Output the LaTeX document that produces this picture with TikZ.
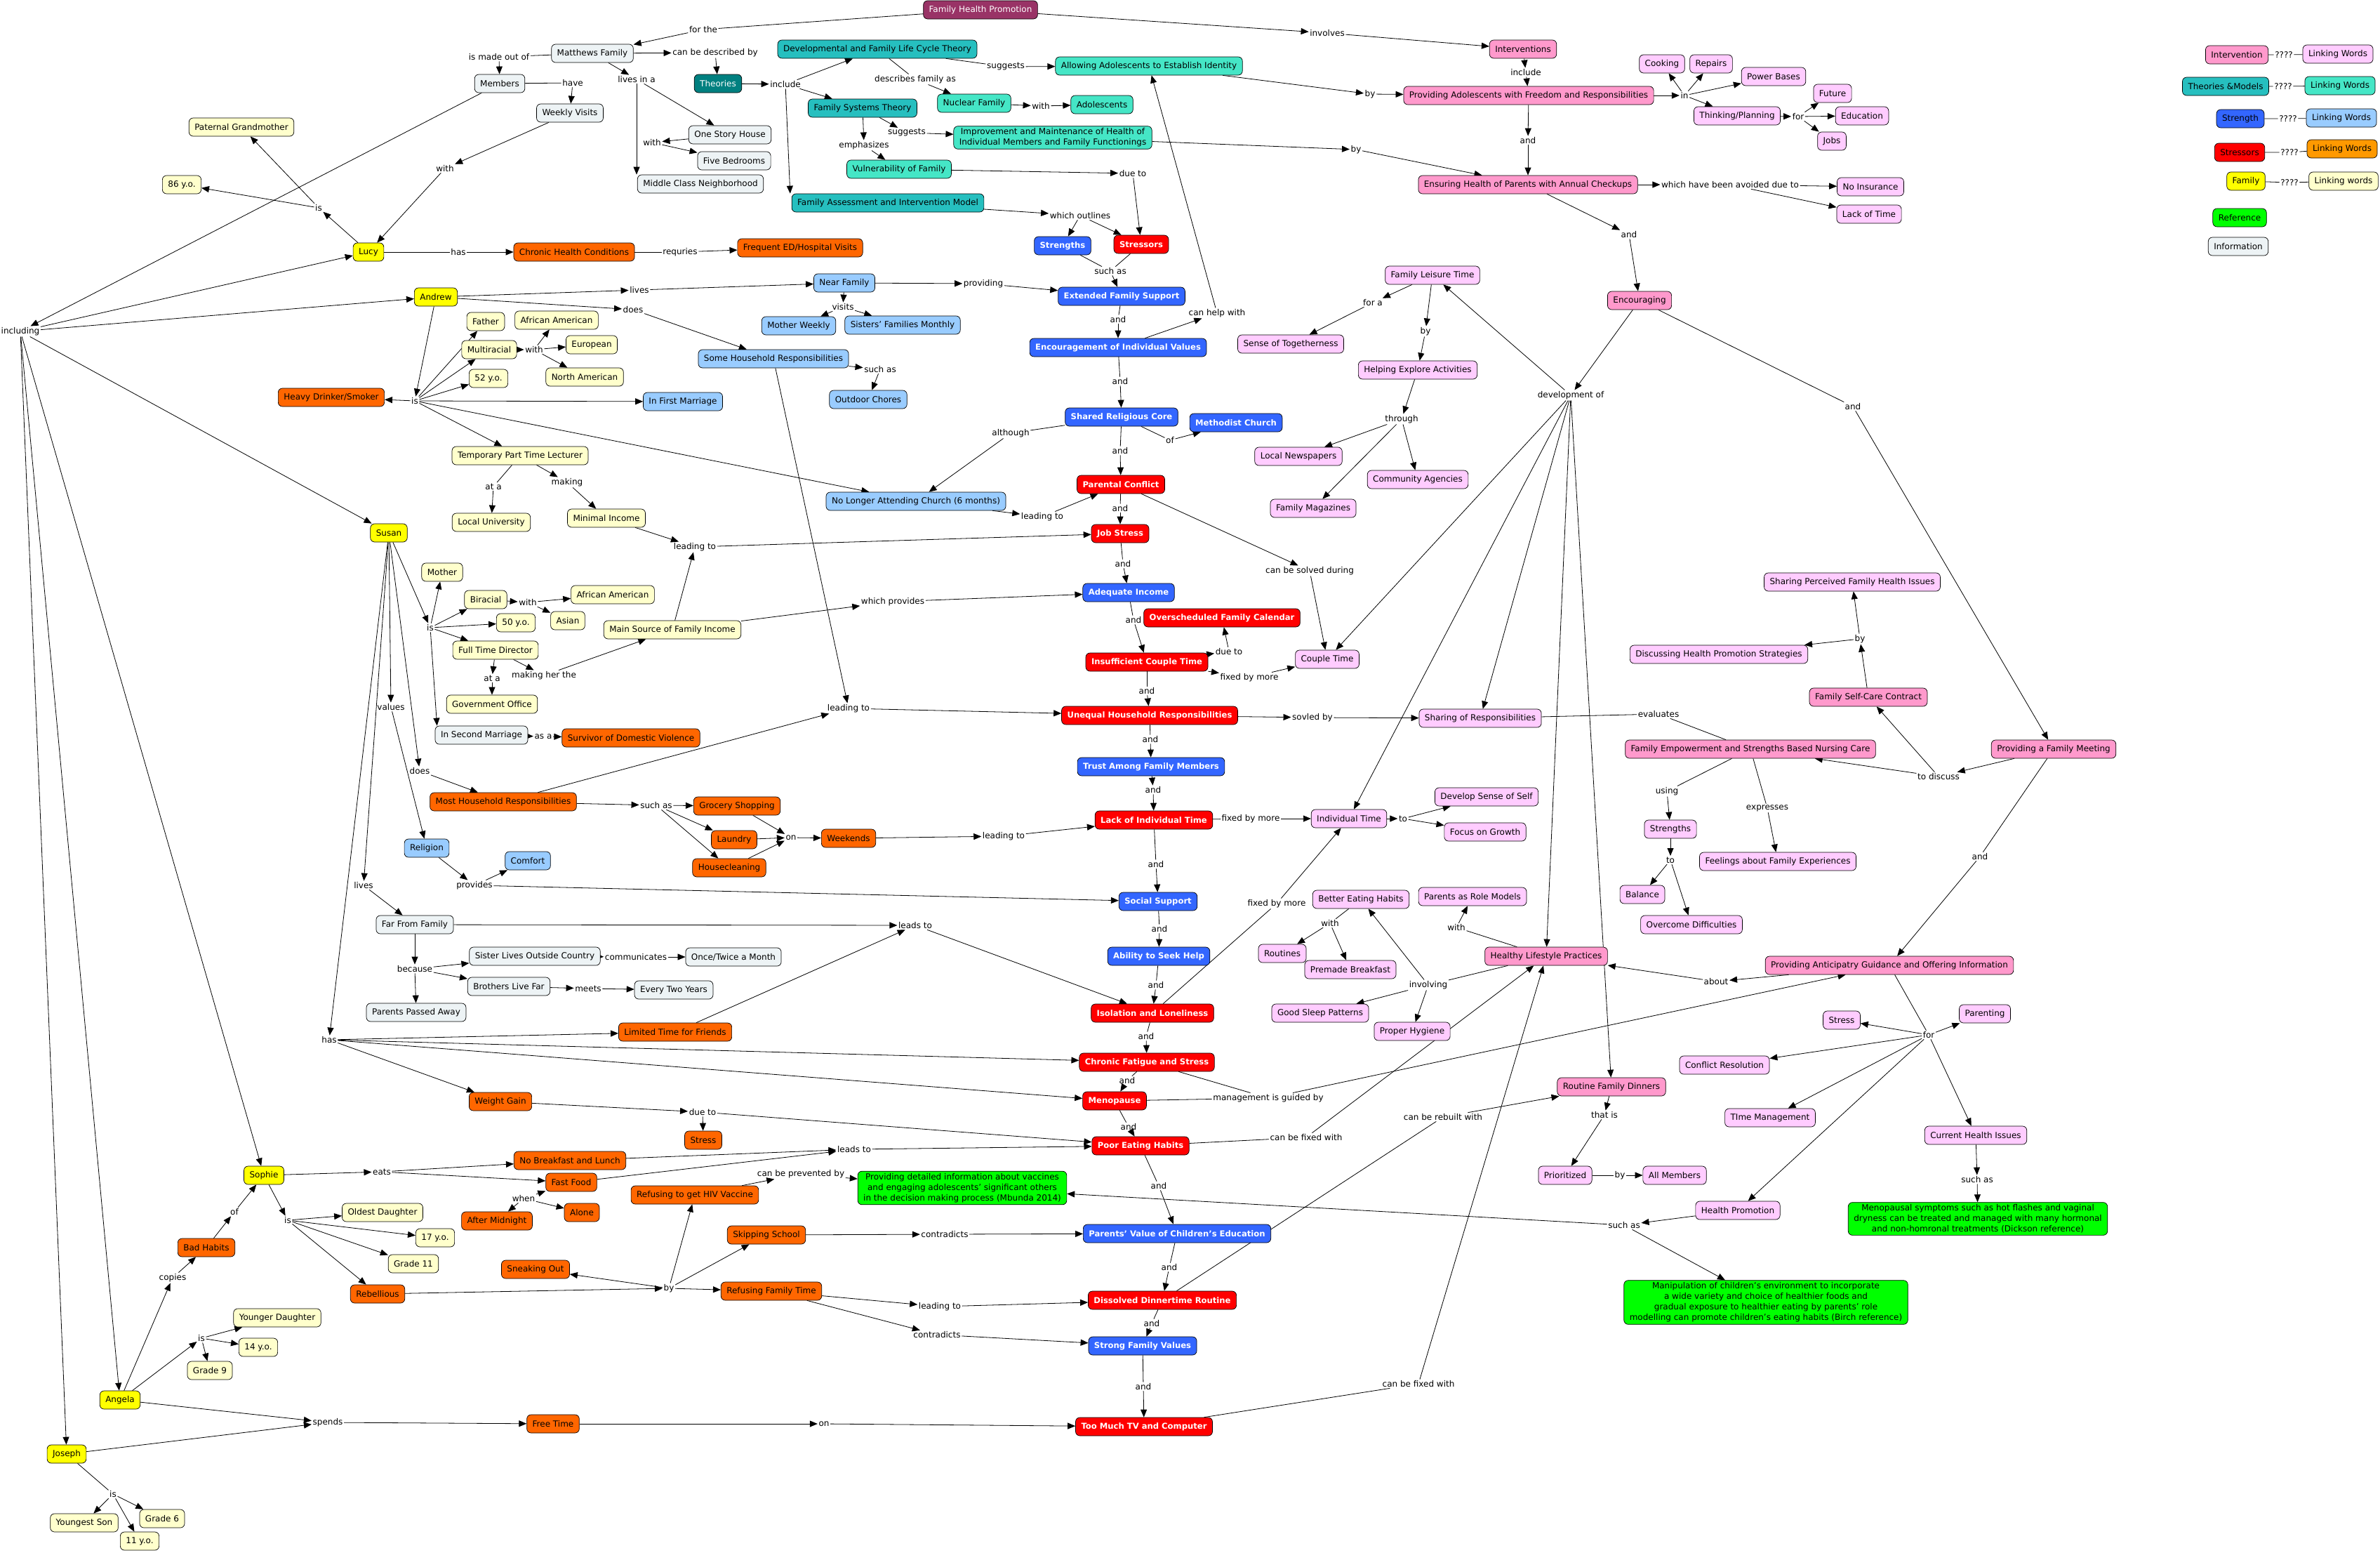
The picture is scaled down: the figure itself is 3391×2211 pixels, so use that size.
\documentclass[tikz,border=0pt]{standalone}
\usepackage{fontspec}
\setmainfont{DejaVu Sans}
\usetikzlibrary{arrows.meta}
\definecolor{cInfo}{HTML}{EDF3F5}
\definecolor{cFam}{HTML}{FFFF00}
\definecolor{cFamW}{HTML}{FFFFCC}
\definecolor{cTheo}{HTML}{26BFBF}
\definecolor{cTheoDk}{HTML}{008080}
\definecolor{cTheoW}{HTML}{45E6C6}
\definecolor{cStr}{HTML}{3366FF}
\definecolor{cStrW}{HTML}{99CCFF}
\definecolor{cStress}{HTML}{FF0000}
\definecolor{cStressW}{HTML}{FF6600}
\definecolor{cStressL}{HTML}{FF9900}
\definecolor{cInt}{HTML}{FF99CC}
\definecolor{cIntW}{HTML}{FFCCFF}
\definecolor{cRef}{HTML}{00FF00}
\definecolor{cFHP}{HTML}{993366}
\newcommand\myfs{\fontsize{12}{15}\selectfont}
\newcommand\mybf{\fontsize{11.6}{15}\selectfont\bfseries}
\pgfdeclarelayer{background}
\pgfsetlayers{background,main}
\tikzset{
 cbox/.style={draw=black, line width=0.7pt, rounded corners=6pt, font=\myfs, inner xsep=8pt, inner ysep=3pt, minimum height=26pt, align=center},
 info/.style={cbox, fill=cInfo},
 fam/.style={cbox, fill=cFam},
 famw/.style={cbox, fill=cFamW},
 theo/.style={cbox, fill=cTheo},
 theodk/.style={cbox, fill=cTheoDk, text=white},
 theow/.style={cbox, fill=cTheoW},
 strg/.style={cbox, fill=cStr, text=white, font=\mybf},
 strw/.style={cbox, fill=cStrW},
 strs/.style={cbox, fill=cStress, text=white, font=\mybf},
 strsw/.style={cbox, fill=cStressW},
 intv/.style={cbox, fill=cInt},
 intw/.style={cbox, fill=cIntW},
 refr/.style={cbox, fill=cRef},
 fhpst/.style={cbox, fill=cFHP, text=white},
 lk/.style={font=\myfs, inner sep=1.5pt, align=center},
 ln/.style={draw=black, line width=0.8pt},
 ar/.style={ln, -{Triangle[length=11pt,width=9pt]}},
}
\begin{document}
\begin{tikzpicture}[x=1pt,y=-1pt]
\useasboundingbox (0,0) rectangle (3391,2211);

% ---------------- linking phrases ----------------
\node[lk] (Lforthe) at (1002,42) {for the};
\node[lk] (Linvolves) at (1891,47) {involves};
\node[lk] (Lmadeout) at (711,81) {is made out of};
\node[lk] (Ldescr) at (1019,75) {can be described by};
\node[lk] (Llivesin) at (907,113) {lives in a};
\node[lk] (Lhave) at (816,118) {have};
\node[lk] (Lincludeone) at (1119,120) {include};
\node[lk] (Ldescribes) at (1304,113) {describes family as};
\node[lk] (Lsuggestsone) at (1433,95) {suggests};
\node[lk] (Lwithnuc) at (1483,151) {with};
\node[lk] (Lsuggeststwo) at (1292,189) {suggests};
\node[lk] (Lemph) at (1231,207) {emphasizes};
\node[lk] (Lwithhouse) at (929,203) {with};
\node[lk] (Ldueto) at (1614,247) {due to};
\node[lk] (Loutlines) at (1539,307) {which outlines};
\node[lk] (Lsuchasone) at (1582,386) {such as};
\node[lk] (Lwithwv) at (634,240) {with};
\node[lk] (Lislucy) at (454,296) {is};
\node[lk] (Lhaslucy) at (653,359) {has};
\node[lk] (Lrequries) at (969,359) {requries};
\node[lk] (Lincluding) at (29,472) {including};
\node[lk] (Llivesand) at (911,413) {lives};
\node[lk] (Ldoesand) at (902,441) {does};
\node[lk] (Lvisits) at (1201,437) {visits};
\node[lk] (Lproviding) at (1401,404) {providing};
\node[lk] (Lsuchastwo) at (1254,526) {such as};
\node[lk] (Lwithmulti) at (761,498) {with};
\node[lk] (Lisandrew) at (591,571) {is};
\node[lk] (Latone) at (703,693) {at a};
\node[lk] (Lmaking) at (808,687) {making};
\node[lk] (Landefs) at (1593,455) {and};
\node[lk] (Lcanhelp) at (1734,446) {can help with};
\node[lk] (Landenc) at (1596,543) {and};
\node[lk] (Lofshared) at (1667,627) {of};
\node[lk] (Lalthough) at (1440,617) {although};
\node[lk] (Landshared) at (1596,642) {and};
\node[lk] (Lleadchurch) at (1485,736) {leading to};
\node[lk] (Landpc) at (1596,724) {and};
\node[lk] (Lleadmin) at (990,779) {leading to};
\node[lk] (Landjob) at (1600,803) {and};
\node[lk] (Lwhichprov) at (1272,857) {which provides};
\node[lk] (Landadeq) at (1615,883) {and};
\node[lk] (Lleadunequal) at (1209,1009) {leading to};
\node[lk] (Landins) at (1634,984) {and};
\node[lk] (Lduetoins) at (1751,928) {due to};
\node[lk] (Lfixedins) at (1780,965) {fixed by more};
\node[lk] (Lsolvedpc) at (1866,813) {can be solved during};
\node[lk] (Lsovled) at (1870,1022) {sovled by};
\node[lk] (Landuneq) at (1639,1053) {and};
\node[lk] (Landtrust) at (1643,1125) {and};
\node[lk] (Lsuchasmhr) at (935,1147) {such as};
\node[lk] (Lonchores) at (1127,1193) {on};
\node[lk] (Lleadwk) at (1430,1191) {leading to};
\node[lk] (Lfixedlack) at (1782,1166) {fixed by more};
\node[lk] (Ltoit) at (1999,1166) {to};
\node[lk] (Landlack) at (1647,1231) {and};
\node[lk] (Lleadsfar) at (1304,1318) {leads to};
\node[lk] (Lcommunicates) at (906,1363) {communicates};
\node[lk] (Lmeets) at (838,1408) {meets};
\node[lk] (Landsocial) at (1652,1323) {and};
\node[lk] (Landability) at (1647,1403) {and};
\node[lk] (Lfixediso) at (1819,1287) {fixed by more};
\node[lk] (Landiso) at (1633,1476) {and};
\node[lk] (Landcf) at (1606,1539) {and};
\node[lk] (Lmgmt) at (1807,1564) {management is guided by};
\node[lk] (Landmeno) at (1608,1605) {and};
\node[lk] (Lduetowg) at (1001,1584) {due to};
\node[lk] (Lleadsfood) at (1217,1637) {leads to};
\node[lk] (Lprevent) at (1141,1672) {can be prevented by};
\node[lk] (Landpoor) at (1651,1689) {and};
\node[lk] (Lfixedpoor) at (1861,1620) {can be fixed with};
\node[lk] (Lrebuilt) at (2056,1591) {can be rebuilt with};
\node[lk] (Lcontraone) at (1346,1758) {contradicts};
\node[lk] (Lbyrebel) at (953,1835) {by};
\node[lk] (Landpv) at (1666,1805) {and};
\node[lk] (Lleadrft) at (1339,1861) {leading to};
\node[lk] (Lcontratwo) at (1335,1901) {contradicts};
\node[lk] (Landdiss) at (1641,1885) {and};
\node[lk] (Landstrong) at (1629,1975) {and};
\node[lk] (Lonfree) at (1174,2028) {on};
\node[lk] (Lfixedtv) at (2021,1971) {can be fixed with};
\node[lk] (Lspends) at (467,2026) {spends};
\node[lk] (Lisjoseph) at (161,2128) {is};
\node[lk] (Lisangela) at (287,1906) {is};
\node[lk] (Lcopies) at (246,1820) {copies};
\node[lk] (Lofbad) at (334,1726) {of};
\node[lk] (Lissophie) at (410,1738) {is};
\node[lk] (Leats) at (544,1669) {eats};
\node[lk] (Lwhen) at (746,1707) {when};
\node[lk] (Lhassusan) at (469,1481) {has};
\node[lk] (Llivessusan) at (518,1261) {lives};
\node[lk] (Lbecause) at (591,1380) {because};
\node[lk] (Lprovides) at (676,1261) {provides};
\node[lk] (Lvalues) at (557,1007) {values};
\node[lk] (Ldoessusan) at (598,1098) {does};
\node[lk] (Lissusan) at (613,894) {is};
\node[lk] (Lwithbi) at (752,858) {with};
\node[lk] (Lattwo) at (701,966) {at a};
\node[lk] (Lmakingher) at (775,962) {making her the};
\node[lk] (Lasa) at (774,1049) {as a};
\node[lk] (Lincludetwo) at (2174,103) {include};
\node[lk] (Lbyallow) at (1952,134) {by};
\node[lk] (Lin) at (2400,136) {in};
\node[lk] (Lforthink) at (2562,166) {for};
\node[lk] (Landprov) at (2177,200) {and};
\node[lk] (Lbyimpr) at (1932,213) {by};
\node[lk] (Lavoided) at (2465,263) {which have been avoided due to};
\node[lk] (Landens) at (2321,334) {and};
\node[lk] (Lfora) at (1956,431) {for a};
\node[lk] (Lbyflt) at (2031,472) {by};
\node[lk] (Lthrough) at (1997,597) {through};
\node[lk] (Ldevof) at (2238,563) {development of};
\node[lk] (Landencg) at (2640,579) {and};
\node[lk] (Lbyselfcare) at (2650,910) {by};
\node[lk] (Ltodiscuss) at (2762,1106) {to discuss};
\node[lk] (Landmeeting) at (2821,1220) {and};
\node[lk] (Levaluates) at (2363,1017) {evaluates};
\node[lk] (Lusing) at (2375,1127) {using};
\node[lk] (Lexpresses) at (2518,1151) {expresses};
\node[lk] (Ltostr) at (2380,1225) {to};
\node[lk] (Lwithbeh) at (1895,1315) {with};
\node[lk] (Lwithhlp) at (2075,1321) {with};
\node[lk] (Linvolving) at (2035,1403) {involving};
\node[lk] (Labout) at (2445,1398) {about};
\node[lk] (Lforantic) at (2748,1474) {for};
\node[lk] (Lthatis) at (2286,1588) {that is};
\node[lk] (Lbyprior) at (2308,1674) {by};
\node[lk] (Lsuchashp) at (2314,1745) {such as};
\node[lk] (Lsuchaschi) at (2817,1680) {such as};
\node[lk] (Lqone) at (3254,78) {????};
\node[lk] (Lqtwo) at (3253,123) {????};
\node[lk] (Lqthree) at (3260,169) {????};
\node[lk] (Lqfour) at (3262,217) {????};
\node[lk] (Lqfive) at (3262,260) {????};

% ---------------- concepts ----------------
\node[fhpst] (fhp) at (1397,14) {Family Health Promotion};
\node[info] (matt) at (844,76) {Matthews Family};
\node[info] (members) at (712,119) {Members};
\node[info] (weekly) at (812,161) {Weekly Visits};
\node[famw] (pg) at (344,181) {Paternal Grandmother};
\node[famw] (yeightysix) at (259,263) {86 y.o.};
\node[fam] (lucy) at (525,359) {Lucy};
\node[strsw] (chronic) at (818,359) {Chronic Health Conditions};
\node[strsw] (frequent) at (1140,353) {Frequent ED/Hospital Visits};
\node[fam] (andrew) at (621,423) {Andrew};
\node[famw] (father) at (692,458) {Father};
\node[famw] (afamone) at (793,456) {African American};
\node[famw] (multi) at (697,498) {Multiracial};
\node[famw] (euro) at (843,491) {European};
\node[famw] (namer) at (833,537) {North American};
\node[famw] (yfiftytwo) at (696,539) {52 y.o.};
\node[strsw] (heavy) at (472,566) {Heavy Drinker/Smoker};
\node[famw] (lecturer) at (741,649) {Temporary Part Time Lecturer};
\node[famw] (localuni) at (700,744) {Local University};
\node[famw] (minimal) at (864,738) {Minimal Income};
\node[theodk] (theories) at (1023,119) {Theories};
\node[theo] (dev) at (1250,70) {Developmental and Family Life Cycle Theory};
\node[theow] (allow) at (1637,94) {Allowing Adolescents to Establish Identity};
\node[theo] (fst) at (1229,154) {Family Systems Theory};
\node[theow] (nuclear) at (1388,147) {Nuclear Family};
\node[theow] (adol) at (1570,149) {Adolescents};
\node[theow] (improve) at (1500,196) {Improvement and Maintenance of Health of\\Individual Members and Family Functionings};
\node[theow] (vuln) at (1281,241) {Vulnerability of Family};
\node[info] (house) at (1040,192) {One Story House};
\node[info] (bed) at (1046,229) {Five Bedrooms};
\node[info] (middle) at (998,262) {Middle Class Neighborhood};
\node[theo] (faim) at (1265,289) {Family Assessment and Intervention Model};
\node[strg] (strengths) at (1514,350) {Strengths};
\node[strs] (stressors) at (1626,348) {Stressors};
\node[strw] (near) at (1203,403) {Near Family};
\node[strg] (efs) at (1598,422) {Extended Family Support};
\node[strw] (motherw) at (1138,464) {Mother Weekly};
\node[strw] (sisters) at (1286,463) {Sisters' Families Monthly};
\node[strw] (somehr) at (1102,511) {Some Household Responsibilities};
\node[strw] (outdoor) at (1237,569) {Outdoor Chores};
\node[strw] (firstm) at (973,572) {In First Marriage};
\node[strg] (enc) at (1593,495) {Encouragement of Individual Values};
\node[strg] (shared) at (1598,594) {Shared Religious Core};
\node[strg] (methodist) at (1761,602) {Methodist Church};
\node[strs] (parental) at (1597,690) {Parental Conflict};
\node[strw] (church) at (1305,714) {No Longer Attending Church (6 months)};
\node[intv] (interv) at (2170,70) {Interventions};
\node[intv] (provadol) at (2178,136) {Providing Adolescents with Freedom and Responsibilities};
\node[intw] (cooking) at (2368,91) {Cooking};
\node[intw] (repairs) at (2438,91) {Repairs};
\node[intw] (power) at (2527,109) {Power Bases};
\node[intw] (thinking) at (2475,165) {Thinking/Planning};
\node[intw] (future) at (2611,133) {Future};
\node[intw] (education) at (2653,165) {Education};
\node[intw] (jobs) at (2610,201) {Jobs};
\node[intv] (ensuring) at (2177,263) {Ensuring Health of Parents with Annual Checkups};
\node[intw] (noins) at (2665,266) {No Insurance};
\node[intw] (lacktime) at (2663,305) {Lack of Time};
\node[intv] (encouraging) at (2336,428) {Encouraging};
\node[intw] (flt) at (2041,392) {Family Leisure Time};
\node[intw] (togeth) at (1839,490) {Sense of Togetherness};
\node[intw] (helping) at (2020,527) {Helping Explore Activities};
\node[intw] (newsp) at (1850,650) {Local Newspapers};
\node[intw] (commag) at (2020,683) {Community Agencies};
\node[intw] (famag) at (1871,724) {Family Magazines};
\node[fam] (susan) at (554,759) {Susan};
\node[famw] (mother) at (630,815) {Mother};
\node[famw] (biracial) at (692,854) {Biracial};
\node[famw] (afamtwo) at (873,847) {African American};
\node[famw] (asian) at (809,884) {Asian};
\node[famw] (yfifty) at (735,887) {50 y.o.};
\node[famw] (ftd) at (706,926) {Full Time Director};
\node[famw] (gov) at (701,1003) {Government Office};
\node[info] (second) at (686,1047) {In Second Marriage};
\node[strsw] (survivor) at (899,1051) {Survivor of Domestic Violence};
\node[strsw] (mhr) at (717,1142) {Most Household Responsibilities};
\node[strw] (religion) at (608,1208) {Religion};
\node[strw] (comfort) at (752,1226) {Comfort};
\node[info] (farfam) at (591,1317) {Far From Family};
\node[info] (sister) at (762,1362) {Sister Lives Outside Country};
\node[info] (brothers) at (725,1405) {Brothers Live Far};
\node[info] (ppa) at (593,1442) {Parents Passed Away};
\node[strs] (jobstress) at (1596,760) {Job Stress};
\node[strg] (adequate) at (1608,844) {Adequate Income};
\node[famw] (mainsrc) at (958,897) {Main Source of Family Income};
\node[strs] (oversch) at (1741,880) {Overscheduled Family Calendar};
\node[strs] (insuff) at (1634,943) {Insufficient Couple Time};
\node[strs] (unequal) at (1638,1019) {Unequal Household Responsibilities};
\node[strg] (trust) at (1640,1092) {Trust Among Family Members};
\node[strs] (lackind) at (1644,1168) {Lack of Individual Time};
\node[strsw] (grocery) at (1050,1148) {Grocery Shopping};
\node[strsw] (laundry) at (1046,1196) {Laundry};
\node[strsw] (housecl) at (1039,1236) {Housecleaning};
\node[strsw] (weekends) at (1209,1194) {Weekends};
\node[strg] (social) at (1650,1284) {Social Support};
\node[strg] (ability) at (1651,1362) {Ability to Seek Help};
\node[strs] (isolation) at (1642,1443) {Isolation and Loneliness};
\node[info] (once) at (1045,1363) {Once/Twice a Month};
\node[info] (every) at (960,1410) {Every Two Years};
\node[strsw] (limited) at (962,1470) {Limited Time for Friends};
\node[intw] (couple) at (1891,939) {Couple Time};
\node[intw] (sharing) at (2109,1023) {Sharing of Responsibilities};
\node[intv] (empower) at (2494,1067) {Family Empowerment and Strengths Based Nursing Care};
\node[intw] (discussing) at (2449,932) {Discussing Health Promotion Strategies};
\node[intw] (sharingp) at (2639,829) {Sharing Perceived Family Health Issues};
\node[intv] (selfcare) at (2662,993) {Family Self-Care Contract};
\node[intv] (meeting) at (2926,1067) {Providing a Family Meeting};
\node[intw] (indtime) at (1922,1166) {Individual Time};
\node[intw] (develop) at (2118,1135) {Develop Sense of Self};
\node[intw] (focus) at (2116,1185) {Focus on Growth};
\node[intw] (strpink) at (2380,1181) {Strengths};
\node[intw] (feelings) at (2533,1227) {Feelings about Family Experiences};
\node[intw] (balance) at (2340,1274) {Balance};
\node[intw] (overcome) at (2410,1317) {Overcome Difficulties};
\node[intw] (beh) at (1939,1281) {Better Eating Habits};
\node[intw] (routines) at (1827,1358) {Routines};
\node[intw] (premade) at (1924,1381) {Premade Breakfast};
\node[intw] (rolemodels) at (2098,1277) {Parents as Role Models};
\node[intv] (hlp) at (2203,1362) {Healthy Lifestyle Practices};
\node[intw] (sleep) at (1881,1443) {Good Sleep Patterns};
\node[intw] (hygiene) at (2012,1469) {Proper Hygiene};
\node[intv] (antic) at (2692,1375) {Providing Anticipatry Guidance and Offering Information};
\node[intw] (stresspink) at (2624,1453) {Stress};
\node[intw] (parenting) at (2828,1444) {Parenting};
\node[intw] (conflict) at (2457,1517) {Conflict Resolution};
\node[intw] (timemgmt) at (2522,1592) {TIme Management};
\node[intw] (currhealth) at (2815,1617) {Current Health Issues};
\node[intw] (healthprom) at (2476,1724) {Health Promotion};
\node[intv] (rfd) at (2296,1548) {Routine Family Dinners};
\node[intw] (prior) at (2230,1674) {Prioritized};
\node[intw] (allm) at (2386,1674) {All Members};
\node[refr] (manip) at (2516,1855) {Manipulation of children's environment to incorporate\\a wide variety and choice of healthier foods and\\gradual exposure to healthier eating by parents' role\\modelling can promote children's eating habits (Birch reference)};
\node[refr] (menop) at (2818,1736) {Menopausal symptoms such as hot flashes and vaginal\\dryness can be treated and managed with many hormonal\\and non-homronal treatments (Dickson reference)};
\node[strsw] (weight) at (713,1569) {Weight Gain};
\node[fam] (sophie) at (376,1674) {Sophie};
\node[strsw] (nobreak) at (812,1653) {No Breakfast and Lunch};
\node[strsw] (fastfood) at (814,1684) {Fast Food};
\node[strsw] (aftermid) at (708,1739) {After Midnight};
\node[strsw] (alone) at (829,1727) {Alone};
\node[strsw] (badhab) at (294,1777) {Bad Habits};
\node[famw] (oldest) at (545,1727) {Oldest Daughter};
\node[famw] (yseventeen) at (620,1763) {17 y.o.};
\node[famw] (gradeeleven) at (589,1800) {Grade 11};
\node[strsw] (rebel) at (538,1843) {Rebellious};
\node[strsw] (sneak) at (763,1808) {Sneaking Out};
\node[famw] (younger) at (395,1877) {Younger Daughter};
\node[famw] (yfourteen) at (368,1919) {14 y.o.};
\node[famw] (gradenine) at (299,1952) {Grade 9};
\node[fam] (angela) at (171,1994) {Angela};
\node[strsw] (freetime) at (788,2028) {Free Time};
\node[fam] (joseph) at (95,2071) {Joseph};
\node[famw] (youngest) at (120,2169) {Youngest Son};
\node[famw] (gradesix) at (231,2163) {Grade 6};
\node[famw] (yeleven) at (199,2195) {11 y.o.};
\node[strs] (chronicf) at (1634,1513) {Chronic Fatigue and Stress};
\node[strs] (menopause) at (1588,1568) {Menopause};
\node[strsw] (stressor) at (1002,1624) {Stress};
\node[strs] (poor) at (1625,1632) {Poor Eating Habits};
\node[strsw] (hiv) at (990,1702) {Refusing to get HIV Vaccine};
\node[refr] (provinfo) at (1371,1692) {Providing detailed information about vaccines\\and engaging adolescents' significant others\\in the decision making process (Mbunda 2014)};
\node[strsw] (skip) at (1092,1759) {Skipping School};
\node[strg] (parentsval) at (1677,1757) {Parents' Value of Children's Education};
\node[strsw] (refusing) at (1099,1839) {Refusing Family Time};
\node[strs] (dissolved) at (1656,1852) {Dissolved Dinnertime Routine};
\node[strg] (strong) at (1628,1917) {Strong Family Values};
\node[strs] (tv) at (1630,2032) {Too Much TV and Computer};

% legend
\node[intv] (lgint) at (3187,78) {Intervention};
\node[intw] (lgintw) at (3331,77) {Linking Words};
\node[theo] (lgtheo) at (3171,123) {Theories \&Models};
\node[theow] (lgtheow) at (3334,122) {Linking Words};
\node[cbox, fill=cStr] (lgstr) at (3192,169) {Strength};
\node[strw] (lgstrw) at (3336,168) {Linking Words};
\node[cbox, fill=cStress] (lgstress) at (3191,217) {Stressors};
\node[cbox, fill=cStressL] (lgstressw) at (3337,212) {Linking Words};
\node[fam] (lgfam) at (3200,258) {Family};
\node[famw] (lgfamw) at (3339,258) {Linking words};
\node[refr] (lgref) at (3191,310) {Reference};
\node[info] (lginfo) at (3189,351) {Information};

% ---------------- connectors ----------------
\begin{pgfonlayer}{background}
\draw[ln] (fhp) -- (Lforthe); \draw[ar] (Lforthe) -- (matt);
\draw[ar] (fhp) -- (Linvolves); \draw[ar] (Linvolves) -- (interv);
\draw[ln] (matt) -- (Lmadeout); \draw[ar] (Lmadeout) -- (members);
\draw[ar] (matt) -- (Ldescr); \draw[ar] (Ldescr) -- (theories);
\draw[ar] (matt) -- (Llivesin); \draw[ar] (Llivesin) -- (house);
\draw[ar] (Llivesin.south) -- (Llivesin.south |- middle.north);
\draw[ar] (house) -- (Lwithhouse); \draw[ar] (Lwithhouse) -- (bed);
\draw[ar] (theories) -- (Lincludeone);
\draw[ar] (Lincludeone) -- (dev); \draw[ar] (Lincludeone) -- (fst);
\draw[ar] (Lincludeone) -- ([xshift=-2pt]faim.north west);
\draw[ln] (dev) -- (Ldescribes); \draw[ar] (Ldescribes) -- (nuclear);
\draw[ln] (dev) -- (Lsuggestsone); \draw[ar] (Lsuggestsone) -- (allow);
\draw[ar] (nuclear) -- (Lwithnuc); \draw[ar] (Lwithnuc) -- (adol);
\draw[ar] (fst) -- (Lsuggeststwo); \draw[ar] (Lsuggeststwo) -- (improve);
\draw[ar] (fst) -- (Lemph); \draw[ar] (Lemph) -- (vuln);
\draw[ar] (vuln) -- (Ldueto); \draw[ar] (Ldueto) -- (stressors);
\draw[ar] (faim) -- (Loutlines); \draw[ar] (Loutlines) -- (strengths); \draw[ar] (Loutlines) -- (stressors);
\draw[ln] (strengths) -- (Lsuchasone); \draw[ln] (stressors) -- (Lsuchasone); \draw[ar] (Lsuchasone) -- (efs);
\draw[ln] (members) -- (Lhave); \draw[ar] (Lhave) -- (weekly);
\draw[ar] (weekly) -- (Lwithwv); \draw[ar] (Lwithwv) -- (lucy);
\draw[ar] (members) -- (Lincluding);
\draw[ar] (lucy) -- (Lislucy); \draw[ar] (Lislucy) -- (pg); \draw[ar] (Lislucy) -- (yeightysix);
\draw[ln] (lucy) -- (Lhaslucy); \draw[ar] (Lhaslucy) -- (chronic);
\draw[ln] (chronic) -- (Lrequries); \draw[ar] (Lrequries) -- (frequent);
\foreach \t in {lucy,andrew,susan,sophie,angela,joseph} \draw[ar] (Lincluding) -- (\t);
\draw[ar] (andrew) -- (Llivesand); \draw[ar] (Llivesand) -- (near);
\draw[ar] (andrew) -- (Ldoesand); \draw[ar] (Ldoesand) -- (somehr);
\draw[ar] (andrew) -- (Lisandrew);
\foreach \t in {father,multi,yfiftytwo,heavy,firstm,lecturer,church} \draw[ar] (Lisandrew) -- (\t);
\draw[ar] (multi) -- (Lwithmulti);
\foreach \t in {afamone,euro,namer} \draw[ar] (Lwithmulti) -- (\t);
\draw[ln] (lecturer) -- (Latone); \draw[ar] (Latone) -- (localuni);
\draw[ar] (lecturer) -- (Lmaking); \draw[ar] (Lmaking) -- (minimal);
\draw[ar] (minimal) -- (Lleadmin); \draw[ar] (mainsrc) -- (Lleadmin); \draw[ar] (Lleadmin) -- (jobstress);
\draw[ar] (mainsrc) -- (Lwhichprov); \draw[ar] (Lwhichprov) -- (adequate);
\draw[ar] (near) -- (Lproviding); \draw[ar] (Lproviding) -- (efs);
\draw[ar] (near) -- (Lvisits); \draw[ar] (Lvisits) -- (motherw); \draw[ar] (Lvisits) -- (sisters);
\draw[ar] (somehr) -- (Lsuchastwo); \draw[ar] (Lsuchastwo) -- (outdoor);
\draw[ar] (somehr) -- (Lleadunequal); \draw[ar] (mhr) -- (Lleadunequal); \draw[ar] (Lleadunequal) -- (unequal);
\draw[ln] (efs) -- (Landefs); \draw[ar] (Landefs) -- (enc);
\draw[ar] (enc) -- (Lcanhelp); \draw[ar] (Lcanhelp) -- (allow);
\draw[ln] (enc) -- (Landenc); \draw[ar] (Landenc) -- (shared);
\draw[ln] (shared) -- (Lofshared); \draw[ar] (Lofshared) -- (methodist);
\draw[ln] (shared) -- (Lalthough); \draw[ar] (Lalthough) -- (church);
\draw[ln] (shared) -- (Landshared); \draw[ar] (Landshared) -- (parental);
\draw[ar] (church) -- (Lleadchurch); \draw[ar] (Lleadchurch) -- (parental);
\draw[ln] (parental) -- (Landpc); \draw[ar] (Landpc) -- (jobstress);
\draw[ar] (parental) -- (Lsolvedpc); \draw[ar] (Lsolvedpc) -- (couple);
\draw[ln] (jobstress) -- (Landjob); \draw[ar] (Landjob) -- (adequate);
\draw[ln] (adequate) -- (Landadeq); \draw[ar] (Landadeq) -- (insuff);
\draw[ar] (insuff) -- (Lduetoins); \draw[ar] (Lduetoins) -- (oversch);
\draw[ar] (insuff) -- (Lfixedins); \draw[ar] (Lfixedins) -- (couple);
\draw[ln] (insuff) -- (Landins); \draw[ar] (Landins) -- (unequal);
\draw[ar] (unequal) -- (Lsovled); \draw[ar] (Lsovled) -- (sharing);
\draw[ln] (unequal) -- (Landuneq); \draw[ar] (Landuneq) -- (trust);
\draw[ar] (trust) -- (Landtrust); \draw[ar] (Landtrust) -- (lackind);
\draw[ln] (lackind) -- (Lfixedlack); \draw[ar] (Lfixedlack) -- (indtime);
\draw[ln] (lackind) -- (Landlack); \draw[ar] (Landlack) -- (social);
\draw[ar] (indtime) -- (Ltoit); \draw[ar] (Ltoit) -- (develop); \draw[ar] (Ltoit) -- (focus);
\draw[ln] (social) -- (Landsocial); \draw[ar] (Landsocial) -- (ability);
\draw[ln] (ability) -- (Landability); \draw[ar] (Landability) -- (isolation);
\draw[ln] (isolation) -- (Lfixediso); \draw[ar] (Lfixediso) -- (indtime);
\draw[ln] (isolation) -- (Landiso); \draw[ar] (Landiso) -- (chronicf);
\draw[ln] (chronicf) -- (Landcf); \draw[ar] (Landcf) -- (menopause);
\draw[ln] (chronicf) -- (Lmgmt); \draw[ln] (menopause) -- (Lmgmt); \draw[ar] (Lmgmt) -- (antic);
\draw[ln] (menopause) -- (Landmeno); \draw[ar] (Landmeno) -- (poor);
\draw[ln] (poor) -- (Landpoor); \draw[ar] (Landpoor) -- (parentsval);
\draw[ln] (poor) -- (Lfixedpoor); \draw[ar] (Lfixedpoor) -- (hlp);
\draw[ln] (hlp) -- (Linvolving);
\foreach \t in {beh,sleep,hygiene} \draw[ar] (Linvolving) -- (\t);
\draw[ln] (hlp) -- (Lwithhlp); \draw[ar] (Lwithhlp) -- (rolemodels);
\draw[ln] (beh) -- (Lwithbeh); \draw[ar] (Lwithbeh) -- (routines); \draw[ar] (Lwithbeh) -- (premade);
\draw[ln] (dissolved) -- (Lrebuilt); \draw[ar] (Lrebuilt) -- (rfd);
\draw[ln] (tv) -- (Lfixedtv); \draw[ar] (Lfixedtv) -- (hlp);
\draw[ln] (parentsval) -- (Landpv); \draw[ar] (Landpv) -- (dissolved);
\draw[ln] (dissolved) -- (Landdiss); \draw[ar] (Landdiss) -- (strong);
\draw[ln] (strong) -- (Landstrong); \draw[ar] (Landstrong) -- (tv);
\draw[ar] (refusing) -- (Lleadrft); \draw[ar] (Lleadrft) -- (dissolved);
\draw[ar] (refusing) -- (Lcontratwo); \draw[ar] (Lcontratwo) -- (strong);
\draw[ar] (skip) -- (Lcontraone); \draw[ar] (Lcontraone) -- (parentsval);
\draw[ar] (rebel) -- (Lbyrebel);
\foreach \t in {hiv,skip,refusing,sneak} \draw[ar] (Lbyrebel) -- (\t);
\draw[ar] (hiv) -- (Lprevent); \draw[ar] (Lprevent) -- (provinfo);
\draw[ln] (antic) -- (Lforantic);
\foreach \t in {stresspink,parenting,conflict,timemgmt,healthprom,currhealth} \draw[ar] (Lforantic) -- (\t);
\draw[ar] (currhealth) -- (Lsuchaschi); \draw[ar] (Lsuchaschi) -- (menop);
\draw[ar] (healthprom) -- (Lsuchashp); \draw[ar] (Lsuchashp) -- (manip); \draw[ar] (Lsuchashp) -- (provinfo);
\draw[ar] (rfd) -- (Lthatis); \draw[ar] (Lthatis) -- (prior);
\draw[ln] (prior) -- (Lbyprior); \draw[ar] (Lbyprior) -- (allm);
\draw[ar] (encouraging) -- (Ldevof);
\foreach \t in {flt,couple,indtime,sharing,hlp,rfd} \draw[ar] (Ldevof) -- (\t);
\draw[ln] (encouraging) -- (Landencg); \draw[ar] (Landencg) -- (meeting);
\draw[ar] (meeting) -- (Ltodiscuss); \draw[ar] (Ltodiscuss) -- (empower); \draw[ar] (Ltodiscuss) -- (selfcare);
\draw[ln] (meeting) -- (Landmeeting); \draw[ar] (Landmeeting) -- (antic);
\draw[ar] (selfcare) -- (Lbyselfcare); \draw[ar] (Lbyselfcare) -- (sharingp); \draw[ar] (Lbyselfcare) -- (discussing);
\draw[ln] (sharing) -- (Levaluates); \draw[ln] (Levaluates) -- (empower);
\draw[ln] (empower) -- (Lusing); \draw[ar] (Lusing) -- (strpink);
\draw[ln] (empower) -- (Lexpresses); \draw[ar] (Lexpresses) -- (feelings);
\draw[ar] (strpink) -- (Ltostr); \draw[ar] (Ltostr) -- (balance); \draw[ar] (Ltostr) -- (overcome);
\draw[ar] (antic) -- (Labout); \draw[ar] (Labout) -- (hlp);
\draw[ar] (interv) -- (Lincludetwo); \draw[ar] (Lincludetwo) -- (provadol);
\draw[ar] (allow) -- (Lbyallow); \draw[ar] (Lbyallow) -- (provadol);
\draw[ar] (provadol) -- (Lin);
\foreach \t in {cooking,repairs,power,thinking} \draw[ar] (Lin) -- (\t);
\draw[ar] (thinking) -- (Lforthink);
\foreach \t in {future,education,jobs} \draw[ar] (Lforthink) -- (\t);
\draw[ar] (provadol) -- (Landprov); \draw[ar] (Landprov) -- (ensuring);
\draw[ar] (improve) -- (Lbyimpr); \draw[ar] (Lbyimpr) -- (ensuring);
\draw[ar] (ensuring) -- (Lavoided); \draw[ar] (Lavoided) -- (noins); \draw[ar] (Lavoided) -- (lacktime);
\draw[ar] (ensuring) -- (Landens); \draw[ar] (Landens) -- (encouraging);
\draw[ar] (flt) -- (Lfora); \draw[ar] (Lfora) -- (togeth);
\draw[ar] (flt) -- (Lbyflt); \draw[ar] (Lbyflt) -- (helping);
\draw[ar] (helping) -- (Lthrough);
\foreach \t in {newsp,commag,famag} \draw[ar] (Lthrough) -- (\t);
\draw[ar] (susan) -- (Lissusan);
\foreach \t in {mother,biracial,yfifty,ftd} \draw[ar] (Lissusan) -- (\t);
\draw[ar] (Lissusan) -- ([xshift=3pt]second.north west);
\draw[ar] (biracial) -- (Lwithbi); \draw[ar] (Lwithbi) -- (afamtwo); \draw[ar] (Lwithbi) -- (asian);
\draw[ar] (ftd) -- (Lattwo); \draw[ar] (Lattwo) -- (gov);
\draw[ar] (ftd) -- (Lmakingher); \draw[ar] (Lmakingher) -- (mainsrc);
\draw[ar] (second) -- (Lasa); \draw[ar] (Lasa) -- (survivor);
\draw[ar] (susan) -- (Lvalues); \draw[ar] (Lvalues) -- (religion);
\draw[ar] (susan) -- (Ldoessusan); \draw[ar] (Ldoessusan) -- (mhr);
\draw[ar] (mhr) -- (Lsuchasmhr);
\foreach \t in {grocery,laundry,housecl} {\draw[ar] (Lsuchasmhr) -- (\t); \draw[ar] (\t) -- (Lonchores);}
\draw[ar] (Lonchores) -- (weekends);
\draw[ar] (weekends) -- (Lleadwk); \draw[ar] (Lleadwk) -- (lackind);
\draw[ar] (religion) -- (Lprovides); \draw[ar] (Lprovides) -- (comfort); \draw[ar] (Lprovides) -- (social);
\draw[ar] (susan) -- (Llivessusan); \draw[ar] (Llivessusan) -- (farfam);
\draw[ar] (farfam) -- (Lbecause);
\foreach \t in {sister,brothers,ppa} \draw[ar] (Lbecause) -- (\t);
\draw[ar] (farfam) -- (Lleadsfar); \draw[ar] (limited) -- (Lleadsfar); \draw[ar] (Lleadsfar) -- (isolation);
\draw[ar] (sister) -- (Lcommunicates); \draw[ar] (Lcommunicates) -- (once);
\draw[ar] (brothers) -- (Lmeets); \draw[ar] (Lmeets) -- (every);
\draw[ar] (susan) -- (Lhassusan);
\foreach \t in {limited,chronicf,menopause,weight} \draw[ar] (Lhassusan) -- (\t);
\draw[ar] (weight) -- (Lduetowg); \draw[ar] (Lduetowg) -- (stressor); \draw[ar] (Lduetowg) -- (poor);
\draw[ar] (sophie) -- (Leats); \draw[ar] (Leats) -- (nobreak); \draw[ar] (Leats) -- (fastfood);
\draw[ar] (nobreak) -- (Lleadsfood); \draw[ar] (fastfood) -- (Lleadsfood); \draw[ar] (Lleadsfood) -- (poor);
\draw[ar] (Lwhen) -- (fastfood); \draw[ar] (Lwhen) -- (aftermid); \draw[ar] (Lwhen) -- (alone);
\draw[ar] (sophie) -- (Lissophie);
\foreach \t in {oldest,yseventeen,gradeeleven,rebel} \draw[ar] (Lissophie) -- (\t);
\draw[ar] (badhab) -- (Lofbad); \draw[ar] (Lofbad) -- (sophie);
\draw[ar] (angela) -- (Lcopies); \draw[ar] (Lcopies) -- (badhab);
\draw[ar] (angela) -- (Lisangela);
\foreach \t in {younger,yfourteen,gradenine} \draw[ar] (Lisangela) -- (\t);
\draw[ar] (angela) -- (Lspends); \draw[ar] (joseph) -- (Lspends); \draw[ar] (Lspends) -- (freetime);
\draw[ar] (freetime) -- (Lonfree); \draw[ar] (Lonfree) -- (tv);
\draw[ln] (joseph) -- (Lisjoseph);
\foreach \t in {youngest,gradesix,yeleven} \draw[ar] (Lisjoseph) -- (\t);
\draw[ln] (lgint) -- (Lqone) -- (lgintw);
\draw[ln] (lgtheo) -- (Lqtwo) -- (lgtheow);
\draw[ln] (lgstr) -- (Lqthree) -- (lgstrw);
\draw[ln] (lgstress) -- (Lqfour) -- (lgstressw);
\draw[ln] (lgfam) -- (Lqfive) -- (lgfamw);
\end{pgfonlayer}
\end{tikzpicture}
\end{document}
